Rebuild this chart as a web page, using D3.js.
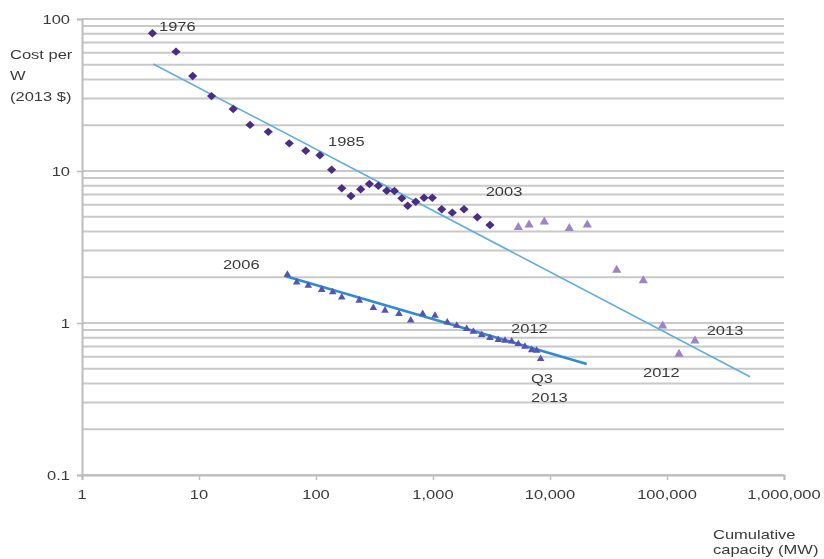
<!DOCTYPE html>
<html>
<head>
<meta charset="utf-8">
<script src="https://cdn.jsdelivr.net/npm/d3@7"></script>
<style>
  html, body { margin: 0; padding: 0; background: #fff; }
  svg { display: block; filter: blur(0.45px); }
  text { font-family: "Liberation Sans", Arial, sans-serif; fill: #3a3a3a; }
</style>
</head>
<body>
<svg id="chart" width="824" height="559"></svg>
<script>
// ---- Data (cumulative capacity MW, cost per W in 2013 $) ----
const diamondCap  = [4.0, 6.36, 8.83, 12.8, 19.6, 27.3, 39.1, 59.1, 81.7, 108, 136, 166, 199, 241, 286, 341, 402, 468, 541, 608, 712, 838, 987, 1187, 1462, 1841, 2392, 3069];
const diamondCost = [80.5, 61, 42.2, 31.1, 25.6, 20.1, 18.1, 15.2, 13.6, 12.7, 10.2, 7.7, 6.85, 7.58, 8.21, 8.0, 7.42, 7.39, 6.61, 5.91, 6.28, 6.67, 6.67, 5.6, 5.32, 5.6, 4.96, 4.41];

const lateCap  = [5358, 6620, 8940, 14620, 20840, 37150, 62700, 91800, 126700, 173400];
const lateCost = [4.30, 4.48, 4.69, 4.24, 4.48, 2.25, 1.92, 0.97, 0.632, 0.773];

const recentCap  = [56.9, 68.4, 85.9, 112, 139, 166, 234, 309, 389, 512, 645, 816, 1040, 1325, 1595, 1942, 2212, 2609, 3069, 3615, 4125, 4706, 5358, 6110, 6980, 7700, 8320];
const recentCost = [2.10, 1.87, 1.78, 1.67, 1.61, 1.49, 1.42, 1.27, 1.22, 1.16, 1.05, 1.16, 1.13, 1.02, 0.97, 0.923, 0.886, 0.843, 0.805, 0.781, 0.773, 0.765, 0.735, 0.706, 0.671, 0.664, 0.586];

// trend lines (fit end points)
const trendLongCap  = [4.07, 512000];
const trendLongCost = [50.6, 0.443];
const trendShortCap  = [54.3, 20600];
const trendShortCost = [2.04, 0.537];

// tick labels
const xTicks = [1, 10, 100, 1000, 10000, 100000, 1000000];
const xTickLabels = ["1", "10", "100", "1,000", "10,000", "100,000", "1,000,000"];
const yTicks = [0.1, 1, 10, 100];
const yTickLabels = ["0.1", "1", "10", "100"];

// annotations (text, anchor capacity, anchor cost)
const annoText = ["1976", "1985", "2003", "2006", "2012", "Q3", "2013", "2013", "2012"];
const annoCap  = [4.55, 126.7, 2820, 16.0, 4645, 6883, 6883, 218400, 62370];
const annoCost = [88.6, 15.6, 7.31, 2.41, 0.923, 0.433, 0.324, 0.890, 0.474];

const yTitle = ["Cost per", "W", "(2013 $)"];
const xTitle = ["Cumulative", "capacity (MW)"];

// ---- Drawing ----
const svg = d3.select("#chart");
const SX = 1.27; // horizontal stretch of text in reference
const FS = 13;

const x = d3.scaleLog().domain([1, 1e6]).range([82, 784]);
const y = d3.scaleLog().domain([0.1, 100]).range([475, 19]);

// gridlines at every minor value
const gridVals = [];
for (let e = -1; e <= 1; e++) for (let m = 1; m <= 9; m++) gridVals.push(m * Math.pow(10, e));
gridVals.push(100);
svg.append("g").selectAll("line").data(gridVals).join("line")
  .attr("x1", x(1)).attr("x2", x(1e6))
  .attr("y1", d => y(d)).attr("y2", d => y(d))
  .attr("stroke", "#c9c9c9").attr("stroke-width", 2);

// axes
const yAxis = d3.axisLeft(y).tickValues(yTicks).tickSize(5).tickFormat("");
const gy = svg.append("g").attr("transform", `translate(${x(1)},0)`).call(yAxis);
gy.select(".domain").attr("stroke", "#bdbdbd").attr("stroke-width", 2);
gy.selectAll(".tick line").attr("stroke", "#bdbdbd").attr("stroke-width", 1.5);

const xAxis = d3.axisBottom(x).tickValues(xTicks).tickSize(5).tickFormat("");
const gx = svg.append("g").attr("transform", `translate(0,${y(0.1)})`).call(xAxis);
gx.select(".domain").attr("stroke", "#bdbdbd").attr("stroke-width", 2);
gx.selectAll(".tick line").attr("stroke", "#bdbdbd").attr("stroke-width", 1.5);

function stretchedText(tx, ty, str, anchor) {
  svg.append("text")
    .attr("transform", `translate(${tx},${ty}) scale(${SX},1)`)
    .attr("text-anchor", anchor || "start")
    .attr("font-size", FS)
    .text(str);
}

// tick labels
yTicks.forEach((v, i) => stretchedText(70, y(v) + 4.5, yTickLabels[i], "end"));
xTicks.forEach((v, i) => stretchedText(x(v), 499, xTickLabels[i], "middle"));

// axis titles
yTitle.forEach((t, i) => stretchedText(10, [58.5, 79.5, 100.5][i], t, "start"));
xTitle.forEach((t, i) => stretchedText(713, [538.5, 553.5][i], t, "start"));

// trend lines
const line = d3.line().x(d => x(d[0])).y(d => y(d[1]));
svg.append("path")
  .datum(trendLongCap.map((c, i) => [c, trendLongCost[i]]))
  .attr("d", line).attr("fill", "none")
  .attr("stroke", "#62ADE0").attr("stroke-width", 1.6);
svg.append("path")
  .datum(trendShortCap.map((c, i) => [c, trendShortCost[i]]))
  .attr("d", line).attr("fill", "none")
  .attr("stroke", "#2F8CD3").attr("stroke-width", 2.6);

// diamonds
const diamond = "M0,-4.2L4.6,0L0,4.2L-4.6,0Z";
svg.append("g").selectAll("path").data(diamondCap.map((c, i) => [c, diamondCost[i]])).join("path")
  .attr("d", diamond)
  .attr("transform", d => `translate(${x(d[0])},${y(d[1])})`)
  .attr("fill", "#4B2D84");

// late triangles
const triBig = "M0,-4.6L4.6,3.4L-4.6,3.4Z";
svg.append("g").selectAll("path").data(lateCap.map((c, i) => [c, lateCost[i]])).join("path")
  .attr("d", triBig)
  .attr("transform", d => `translate(${x(d[0])},${y(d[1])})`)
  .attr("fill", "#9C84C6");

// recent triangles
const triSmall = "M0,-3.8L3.8,2.8L-3.8,2.8Z";
svg.append("g").selectAll("path").data(recentCap.map((c, i) => [c, recentCost[i]])).join("path")
  .attr("d", triSmall)
  .attr("transform", d => `translate(${x(d[0])},${y(d[1])})`)
  .attr("fill", "#5753B2");

// annotations
annoText.forEach((t, i) => stretchedText(x(annoCap[i]), y(annoCost[i]) + 4.5, t, "start"));
</script>
</body>
</html>
